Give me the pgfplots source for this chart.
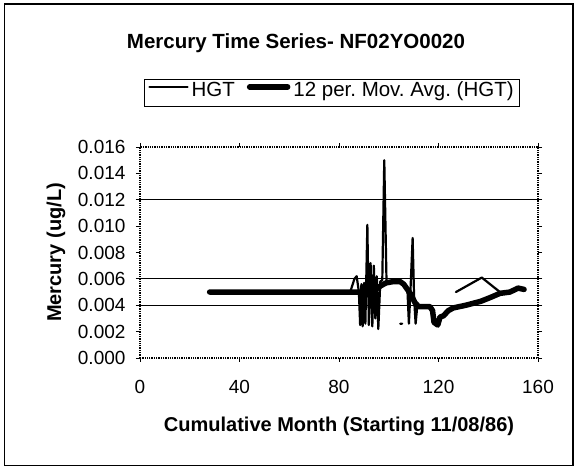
\documentclass[border=0pt]{standalone}
\usepackage{pgfplots}
\usepackage{pgfplotstable}
\pgfplotsset{compat=1.18}
\usepackage{fontspec}
\setmainfont{Liberation Sans}
\frenchspacing

% HGT readings (nan = gap in the record)
\pgfplotstableread{
x y
28 0.0050
84.5 0.0050
86.2 0.0060
87.1 0.0062
88.0 0.0050
88.5 0.0025
89.0 0.0056
89.5 0.0024
90.1 0.0057
90.6 0.0026
91.4 0.0101
92.0 0.0025
92.7 0.0072
93.4 0.0024
94.0 0.0070
94.6 0.0030
95.2 0.0062
95.8 0.0022
96.6 0.0058
97.4 0.0059
98.2 0.0150
99.1 0.0058
101 0.0058
103 0.0059
104 0.0058
nan nan
104.6 0.0026
105.4 0.0026
nan nan
106.5 0.0056
107.5 0.0052
108.1 0.0026
108.7 0.0050
109.6 0.0091
110.2 0.0045
110.8 0.0026
111.5 0.0040
113 0.0040
116 0.0040
117.5 0.0038
118.2 0.0027
119.5 0.0025
120.5 0.0031
122 0.0032
124 0.0036
nan nan
127.0 0.0050
137.4 0.0061
144.7 0.0050
148.7 0.0050
152 0.0053
154.4 0.0052
}\hgt

% 12 period moving average
\pgfplotstableread{
x y
28 0.0050
84.5 0.0050
88 0.0050
91 0.0049
94 0.0051
97 0.0055
99 0.0057
102 0.0058
104.5 0.0058
106 0.0056
107.5 0.0052
109 0.0048
110.5 0.0042
112 0.0039
116.5 0.0039
117.6 0.0036
118.2 0.0027
119.7 0.0025
120.6 0.0031
122 0.0032
124 0.0036
126 0.0038
131 0.0040
137 0.0043
141 0.0046
144.7 0.0049
148.7 0.0050
152 0.0053
154.4 0.0052
}\movavg

\begin{document}
\begin{tikzpicture}[x=1pt,y=1pt]
\path[use as bounding box] (0,0) rectangle (578,470);
\draw[line width=1.2pt] (4.5,4.5) rectangle (573,466);
\node[anchor=base, font=\fontsize{20.5}{24}\selectfont\bfseries] at (296,421.7) {Mercury Time Series- NF02YO0020};
\begin{axis}[
  at={(140pt,112pt)}, anchor=south west,
  scale only axis, width=398pt, height=211pt,
  xmin=0, xmax=160, ymin=0, ymax=0.016,
  xtick={0,40,...,160},
  ytick={0,0.002,...,0.016},
  scaled y ticks=false,
  yticklabel style={xshift=-7pt, /pgf/number format/.cd, fixed, fixed zerofill, precision=3},
  /pgf/number format/assume math mode=true,
  tick label style={font=\fontsize{19}{22}\selectfont},
  xticklabel style={yshift=-15pt},
  tick align=outside, major tick length=4pt,
  tick style={black, line width=0.8pt},
  axis line style={black, line width=1.3pt, densely dotted},
  extra y ticks={0.004,0.006,0.012},
  extra y tick labels={},
  extra y tick style={grid=major, major grid style={black, line width=0.8pt, solid}},
  unbounded coords=jump,
  every axis y label/.style={at={(axis description cs:-0.211,0.5)}, rotate=90, anchor=center},
  every axis x label/.style={at={(axis description cs:0.5,-0.322)}, anchor=center},
  xlabel={\fontsize{20}{24}\selectfont\bfseries Cumulative Month (Starting 11/08/86)},
  ylabel={\fontsize{20}{24}\selectfont\bfseries Mercury (ug/L)},
  legend columns=2,
  legend style={at={(axis description cs:0.4825,1.258)}, anchor=center,
    draw=black, line width=0.8pt, inner xsep=4pt, inner ysep=5pt,
    font=\fontsize{20.5}{24}\selectfont,
    nodes={text depth=0.25em, text height=0.75em},
    /tikz/every odd column/.append style={column sep=1pt},
    /tikz/every even column/.append style={column sep=10pt}},
  legend image code/.code={\draw[#1] (0pt,7pt) -- (38pt,7pt);},
]
\addplot[black, line width=2.2pt, line join=round, line cap=round] table {\hgt};
\addlegendentry{HGT}
\addplot[black, line width=5.5pt, line join=round, line cap=round] table {\movavg};
\addlegendentry{12 per. Mov. Avg. (HGT)}
\end{axis}
\end{tikzpicture}
\end{document}
